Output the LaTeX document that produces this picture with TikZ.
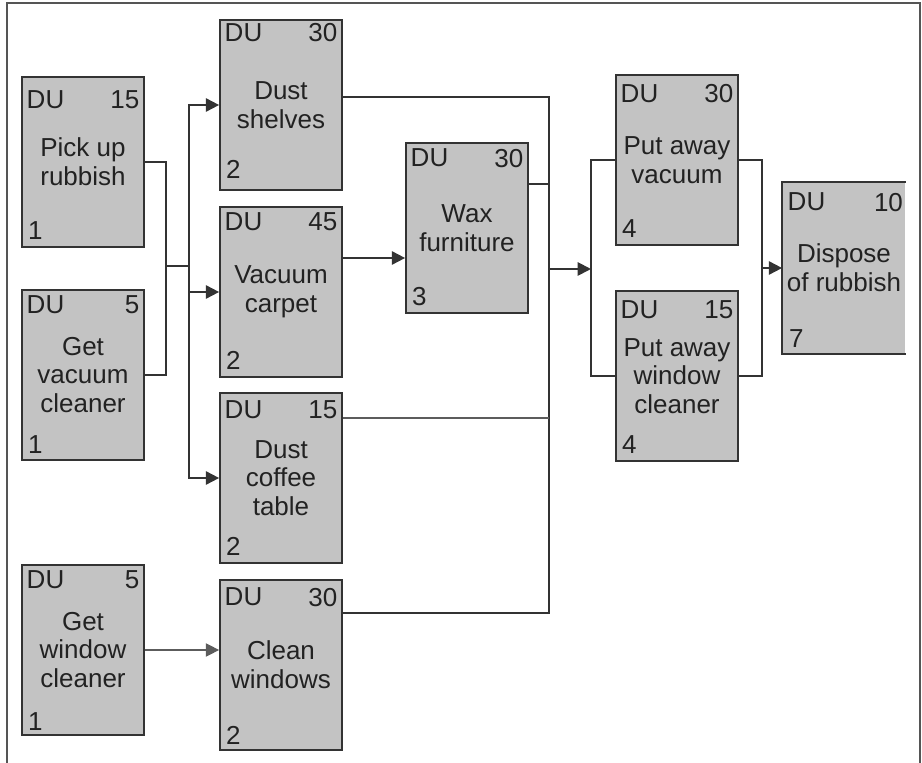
\documentclass[tikz,border=0pt]{standalone}
\usepackage{fontspec}
\setmainfont{Liberation Sans}
\usetikzlibrary{arrows.meta,calc}
\definecolor{boxfill}{HTML}{C3C3C3}
\definecolor{boxline}{HTML}{333333}
\definecolor{txt}{HTML}{222222}
\definecolor{framec}{HTML}{555555}
\tikzset{
  task/.style={rectangle, draw=boxline, fill=boxfill, line width=1.3pt,
    minimum width=91.5pt, minimum height=127.5pt, inner sep=0pt,
    align=center, font=\fontsize{19.5}{21.5}\selectfont, text=txt},
  lbl/.style={inner sep=0pt, font=\fontsize{19.5}{21.5}\selectfont, text=txt},
  conn/.style={draw=boxline, line width=1.4pt},
  thinconn/.style={draw=boxline!80!white, line width=1pt},
  arr/.style={-{Triangle[length=10pt,width=10pt]}},
  frameline/.style={draw=framec, line width=1.5pt}
}
% name, x, y, duration, text, number, top offset, bottom offset
\newcommand\tasknode[8]{%
  \node[task] (#1) at (#2,#3) {#5};
  \node[lbl, anchor=north west] (#1-du) at ([xshift=4pt,yshift=-#7]#1.north west) {DU};
  \node[lbl, anchor=north east] (#1-d) at ([xshift=-4pt,yshift=-#7]#1.north east) {#4};
  \node[lbl, anchor=base west] (#1-n) at ([xshift=5pt,yshift=#8]#1.south west) {#6};
}
\begin{document}
\begin{tikzpicture}[x=0.75pt,y=-0.75pt]
\useasboundingbox (0,0) rectangle (922,763);
\draw[frameline] (7,763) -- (7,3) -- (920,3) -- (920,763);

\tasknode{pick}{83}{162}{15}{Pick up\\rubbish}{1}{10.5pt}{6.5pt}
\tasknode{getvac}{83}{375}{5}{Get\\vacuum\\cleaner}{1}{4.5pt}{5.5pt}
\tasknode{getwin}{83}{650}{5}{Get\\window\\cleaner}{1}{5pt}{4pt}
\tasknode{shelves}{281}{105}{30}{Dust\\shelves}{2}{3pt}{9.5pt}
\tasknode{carpet}{281}{292}{45}{Vacuum\\carpet}{2}{4.5pt}{6pt}
\tasknode{coffee}{281}{478}{15}{Dust\\coffee\\table}{2}{6.5pt}{6pt}
\tasknode{clean}{281}{665}{30}{Clean\\windows}{2}{6.5pt}{4.5pt}
\tasknode{wax}{467}{228}{30}{Wax\\furniture}{3}{5pt}{6pt}
\tasknode{pav}{677}{160}{30}{Put away\\vacuum}{4}{7.5pt}{6pt}
\tasknode{pawc}{677}{376}{15}{Put away\\window\\cleaner}{4}{8pt}{6.5pt}

% Dispose of rubbish: clipped on the right
\node[task, draw=none] (dispose) at (844,268) {Dispose\\of rubbish};
\draw[conn, line width=1.3pt] (dispose.north east) -- (dispose.north west) -- (dispose.south west) -- (dispose.south east);
\node[lbl, anchor=north west] (dispose-du) at ([xshift=4pt,yshift=-8pt]dispose.north west) {DU};
\node[lbl, anchor=north east] (dispose-d) at ([xshift=-2pt,yshift=-8pt]dispose.north east) {10};
\node[lbl, anchor=base west] (dispose-n) at ([xshift=5pt,yshift=4.5pt]dispose.south west) {7};

% left merge
\coordinate (j1) at (166,266);
\coordinate (j2) at (189,266);
\draw[conn] (pick.east) -| (j1);
\draw[conn] (getvac.east) -| (j1);
\draw[conn] (j1) -- (j2);
\draw[conn, arr] (j2) |- (shelves.west);
\draw[conn, arr] (j2) |- (carpet.west);
\draw[conn, arr] (j2) |- (coffee.west);

\draw[thinconn, arr] (getwin.east) -- (getwin.east -| clean.west);

% carpet -> wax
\coordinate (carpo) at ([yshift=25.5pt]carpet.east);
\draw[conn, arr] (carpo) -- (carpo -| wax.west);

% bus
\coordinate (busT) at (549,97);
\coordinate (busB) at (549,613);
\coordinate (busM) at (549,269);
\draw[conn] (shelves.east |- busT) -- (busT) -- (busB) -- (clean.east |- busB);
\coordinate (waxo) at ([yshift=33pt]wax.east);
\draw[conn] (waxo) -- (waxo -| busT);
\coordinate (cofo) at ([yshift=45pt]coffee.east);
\draw[thinconn] (cofo) -- (cofo -| busT);

% to put-away tasks
\coordinate (l2) at (591,269);
\draw[conn, arr] (busM) -- (l2);
\draw[conn] (pav.west) -| (l2) |- (pawc.west);

\coordinate (r2) at (762,268);
\draw[conn] (pav.east) -| (r2) |- (pawc.east);
\draw[conn, arr] (r2) -- (dispose.west);
\end{tikzpicture}
\end{document}
